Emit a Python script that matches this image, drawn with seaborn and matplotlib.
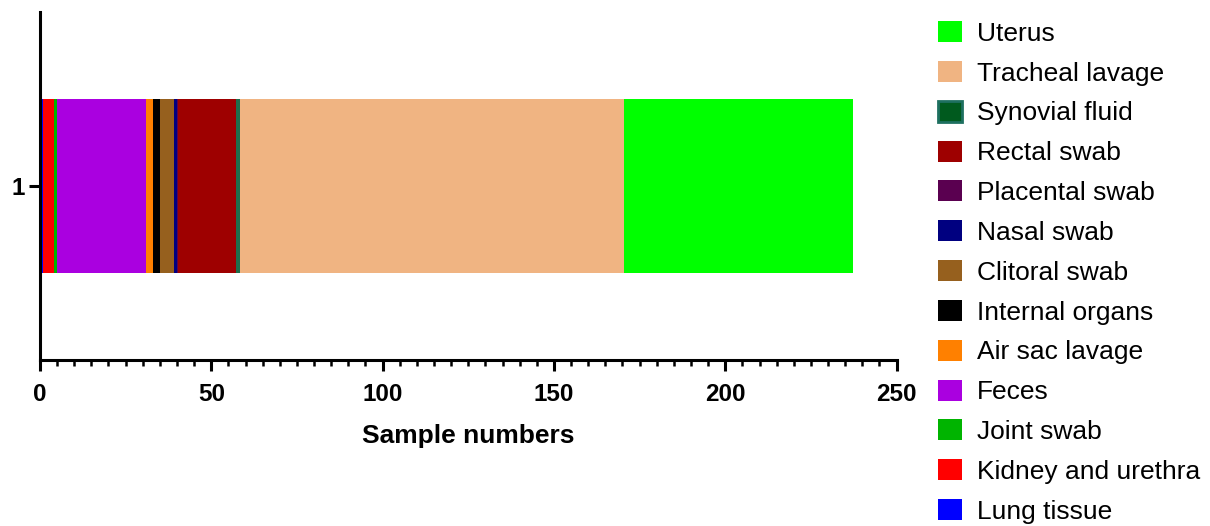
import matplotlib
matplotlib.use("Agg")
import matplotlib.pyplot as plt
from matplotlib.patches import Patch
from matplotlib.ticker import MultipleLocator
import seaborn as sns
import pandas as pd
import numpy as np

categories = ["Lung tissue", "Kidney and urethra", "Joint swab", "Feces", "Air sac lavage",
              "Internal organs", "Clitoral swab", "Nasal swab", "Placental swab", "Rectal swab",
              "Synovial fluid", "Tracheal lavage", "Uterus"]
values = [1, 3, 1, 26, 2, 2, 4, 1, 0.3, 17, 1, 112, 67]
colors = ["#0000FF", "#FF0000", "#00B400", "#AA00E0", "#FF8000",
          "#000000", "#96601E", "#000080", "#5A0050", "#9E0000",
          "#1E6E4B", "#F0B482", "#00FF00"]
group_label = ["1"]

sns.set_theme(style="ticks")
plt.rcParams['font.family'] = ['Liberation Sans', 'DejaVu Sans']
plt.rcParams['text.color'] = 'black'
plt.rcParams['axes.labelcolor'] = 'black'
plt.rcParams['xtick.color'] = 'black'
plt.rcParams['ytick.color'] = 'black'

fig = plt.figure(figsize=(12.1, 5.26), dpi=100)
ax = fig.add_axes([0.033, 0.316, 0.708, 0.661])

cum = np.cumsum(values)
for i in range(len(categories) - 1, -1, -1):
    df = pd.DataFrame({"group": group_label, "total": [cum[i]]})
    sns.barplot(data=df, x="total", y="group", orient="h", color=colors[i],
                saturation=1, width=0.5, ax=ax, linewidth=0)

ax.set_xlim(0, 250)
ax.set_ylim(0.5, -0.5)
ax.xaxis.set_major_locator(MultipleLocator(50))
ax.xaxis.set_minor_locator(MultipleLocator(5))
ax.tick_params(axis="x", which="major", length=8, width=2.2, labelsize=17.5, pad=8.5)
ax.tick_params(axis="x", which="minor", length=4.5, width=1.8)
ax.tick_params(axis="y", which="major", length=8, width=2.2, labelsize=17.5, pad=3)
for lab in ax.get_xticklabels() + ax.get_yticklabels():
    lab.set_fontweight("bold")
ax.set_xlabel("Sample numbers", fontsize=19, fontweight="bold", labelpad=13)
ax.set_ylabel("")
for s in ["left", "bottom"]:
    ax.spines[s].set_linewidth(2.2)
    ax.spines[s].set_color("black")
sns.despine(ax=ax)

handles = []
for c, col in zip(categories, colors):
    if c == "Synovial fluid":
        handles.append(Patch(facecolor="#005A1E", edgecolor="#1E7060", linewidth=2, label=c))
    else:
        handles.append(Patch(facecolor=col, edgecolor=col, linewidth=0, label=c))
handles = handles[::-1]
fig.legend(handles=handles, loc="upper left", bbox_to_anchor=(0.775, 0.960),
           frameon=False, fontsize=19, handlelength=0.92, handleheight=0.85,
           labelspacing=0.575, handletextpad=0.55, borderaxespad=0, borderpad=0)

fig.savefig("out.png", dpi=100)
